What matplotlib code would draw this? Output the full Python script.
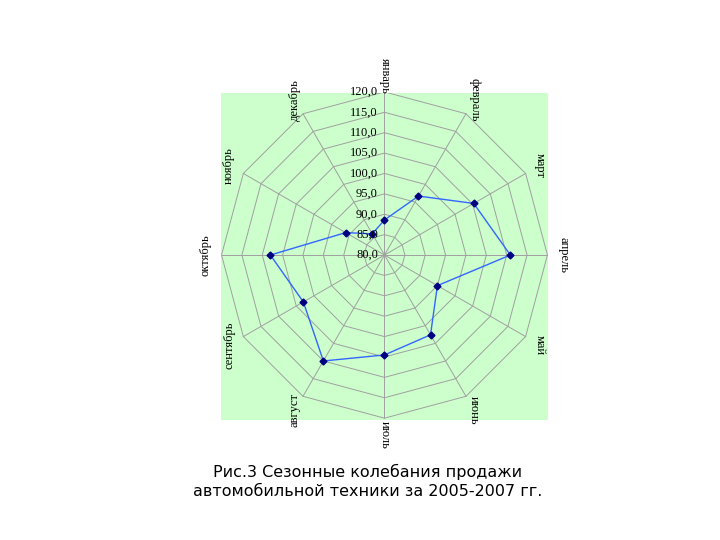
import numpy as np
import matplotlib
matplotlib.use("Agg")
import matplotlib.pyplot as plt

months = ["январь","февраль","март","апрель","май","июнь","июль","август","сентябрь","октябрь","ноябрь","декабрь"]
values = [88.6, 96.7, 105.3, 110.9, 95.0, 102.6, 104.5, 110.0, 103.0, 108.0, 91.0, 86.0]
ticks = [80, 85, 90, 95, 100, 105, 110, 115, 120]
vmin, vmax = 80, 120

fig = plt.figure(figsize=(7.2, 5.4), dpi=100)
ax = fig.add_axes([0.307, 0.222, 0.454, 0.606])
ax.set_facecolor("#ccffcc")
ax.set_xlim(-1.003, 1.003); ax.set_ylim(-1.012, 0.994)
ax.set_xticks([]); ax.set_yticks([])
for s in ax.spines.values(): s.set_visible(False)

n = len(months)
ang = np.pi/2 - 2*np.pi*np.arange(n)/n
def r(v): return (np.asarray(v) - vmin)/(vmax - vmin)

angc = np.append(ang, ang[0])
for t in ticks[1:]:
    ax.plot(r(t)*np.cos(angc), r(t)*np.sin(angc), color="#a0a0a0", lw=0.7, zorder=1)
for a in ang:
    ax.plot([0, np.cos(a)], [0, np.sin(a)], color="#a0a0a0", lw=0.7, zorder=1)

rv = r(values)
x = rv*np.cos(ang); y = rv*np.sin(ang)
ax.plot(np.append(x, x[0]), np.append(y, y[0]), color="#3366ff", lw=1, zorder=2)
ax.plot(x, y, "D", color="#000080", ms=3.5, zorder=3)

for t in ticks:
    ax.text(-0.04, r(t), f"{t:.1f}".replace(".", ","), ha="right", va="center",
            fontsize=9, family="Liberation Serif", zorder=4)

for m, a in zip(months, ang):
    c, s = np.cos(a), np.sin(a)
    rot = -90 if c > -1e-6 else 90
    ax.text(1.1*c, 1.1*s, m, rotation=rot, ha="center", va="center",
            fontsize=9, family="Liberation Serif", clip_on=False)

fig.text(0.51, 0.108, "Рис.3 Сезонные колебания продажи\nавтомобильной техники за 2005-2007 гг.",
         ha="center", va="center", fontsize=11.5, family="DejaVu Sans", linespacing=1.3)
fig.savefig("out.png", dpi=100)
